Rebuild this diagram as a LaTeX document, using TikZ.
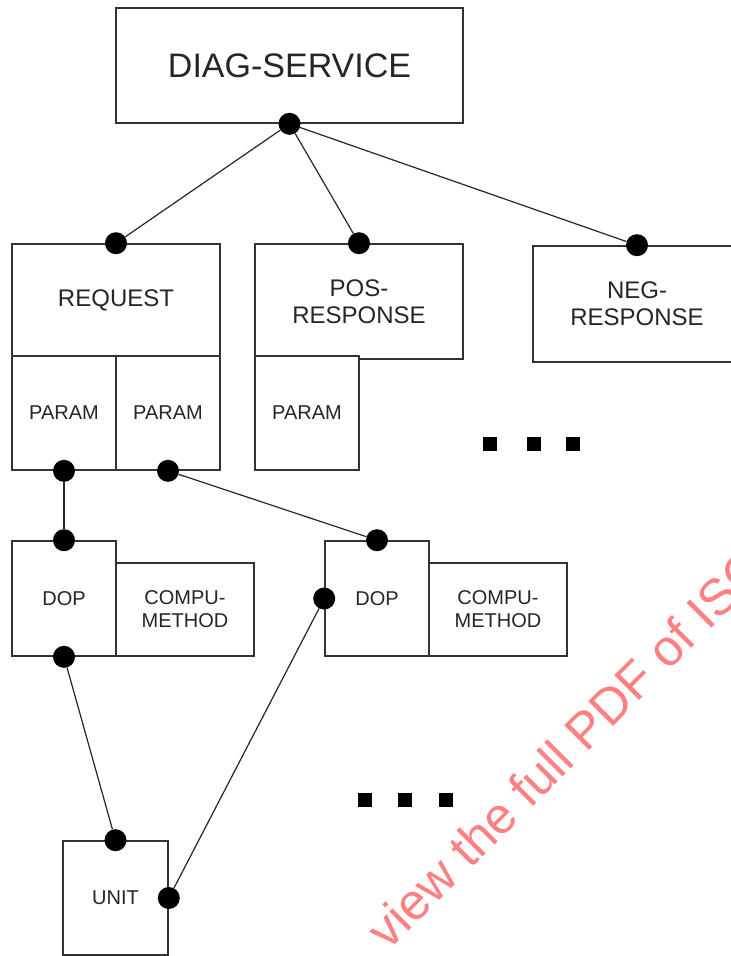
\documentclass[tikz,border=0pt]{standalone}
\usepackage{fontspec}
\setmainfont{Liberation Sans}
\begin{document}
\begin{tikzpicture}[x=1pt,y=-1pt,
  box/.style={draw=black!80,line width=1.6pt,fill=white,inner sep=0pt,
    align=center,text=black!85},
  dot/.style={circle,fill=black,inner sep=0pt,minimum size=22pt},
  link/.style={draw=black!85,line width=1.2pt},
  more/.style={fill=black},
  big/.style={font=\fontsize{34}{38}\selectfont},
  mid/.style={font=\fontsize{24}{27}\selectfont},
  small/.style={font=\fontsize{20}{23}\selectfont},
]
\useasboundingbox (0,0) rectangle (731,956);
\clip (0,0) rectangle (731,956);
\fill[white] (0,0) rectangle (731,956);

% top-level service
\node[box,big,minimum width=347pt,minimum height=115pt] (ds) at (289.5,65.5) {DIAG-SERVICE};

% request with its two parameters
\node[box,mid,minimum width=208pt,minimum height=112pt] (req) at (116,300) {REQUEST};
\node[box,small,minimum width=104pt,minimum height=114pt] (p1) at (64,413) {PARAM};
\node[box,small,minimum width=104pt,minimum height=114pt] (p2) at (168,413) {PARAM};

% positive response with its parameter
\node[box,mid,minimum width=208pt,minimum height=115pt] (pos) at (359,301.5) {POS-\\RESPONSE};
\node[box,small,minimum width=104pt,minimum height=114pt] (p3) at (307,413) {PARAM};

% negative response
\node[box,mid,minimum width=208pt,minimum height=116pt] (neg) at (637,304) {NEG-\\RESPONSE};

% data object properties with their computation methods
\node[box,small,minimum width=138pt,minimum height=93pt] (cm1) at (185,609.5) {COMPU-\\METHOD};
\node[box,small,minimum width=104pt,minimum height=115pt] (dop1) at (64,598.5) {DOP};
\node[box,small,minimum width=138pt,minimum height=93pt] (cm2) at (498,609.5) {COMPU-\\METHOD};
\node[box,small,minimum width=104pt,minimum height=115pt] (dop2) at (377,598.5) {DOP};

% unit
\node[box,small,minimum width=105pt,minimum height=114pt] (unit) at (115.5,898) {UNIT};

% connection points
\node[dot] (dsS) at (ds.south) {};
\node[dot] (reqN) at (req.north) {};
\node[dot] (posN) at (pos.north) {};
\node[dot] (negN) at (neg.north) {};
\node[dot] (p1S) at (p1.south) {};
\node[dot] (p2S) at (p2.south) {};
\node[dot] (dop1N) at (dop1.north) {};
\node[dot] (dop1S) at (dop1.south) {};
\node[dot] (dop2N) at (dop2.north) {};
\node[dot] (dop2W) at (dop2.west) {};
\node[dot] (unitN) at (unit.north) {};
\node[dot] (unitE) at (unit.east) {};

% connectors
\draw[link] (dsS) -- (reqN);
\draw[link] (dsS) -- (posN);
\draw[link] (dsS) -- (negN);
\draw[link] (p1S) -- (dop1N);
\draw[link] (p2S) -- (dop2N);
\draw[link] (dop1S) -- (unitN);
\draw[link] (dop2W) -- (unitE);

% continuation marks
\fill[more] (483,437) rectangle +(14,14);
\fill[more] (527,437) rectangle +(14,14);
\fill[more] (566,437) rectangle +(14,14);
\fill[more] (358,793) rectangle +(14,14);
\fill[more] (398,793) rectangle +(14,14);
\fill[more] (439,793) rectangle +(14,14);

% watermark
\node[anchor=base west,rotate=45,inner sep=0pt,text=red!50,
  font=\fontsize{51}{56}\selectfont] (wm) at (388,952) {view the full PDF of ISO};
\end{tikzpicture}
\end{document}
